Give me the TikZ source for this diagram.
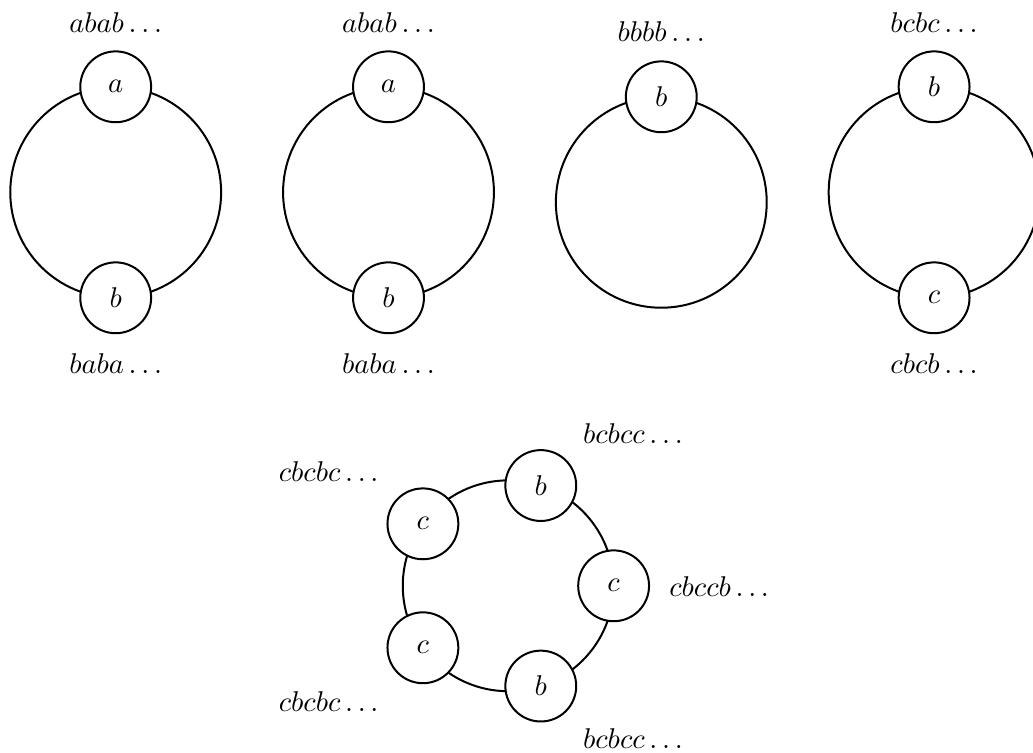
\documentclass[tikz,border=0pt]{standalone}
\usetikzlibrary{calc}
\begin{document}
\begin{tikzpicture}[x=0.35pt,y=-0.35pt,
  st/.style={circle,draw,fill=white,line width=0.7pt,minimum size=24.8pt,inner sep=0pt},
  ring/.style={line width=0.7pt},
  lbl/.style={anchor=base,inner sep=0pt}]
\useasboundingbox (0,0) rectangle (1033,753);
% circle 1
\coordinate (o1) at (115.7,192.3);
\draw[ring] (o1) circle[radius=36.9pt];
\node[st] (a1) at (115.7,86.8) {$a$};
\node[st] (b1) at (115.7,297.8) {$b$};
\node[lbl] (la1) at (115.7,32.3) {$abab\ldots$};
\node[lbl] (lb1) at (115.7,373.3) {$baba\ldots$};
% circle 2
\coordinate (o2) at (388.5,192.3);
\draw[ring] (o2) circle[radius=36.9pt];
\node[st] (a2) at (388.5,86.8) {$a$};
\node[st] (b2) at (388.5,297.8) {$b$};
\node[lbl] (la2) at (388.5,32.3) {$abab\ldots$};
\node[lbl] (lb2) at (388.5,373.3) {$baba\ldots$};
% circle 3
\coordinate (o3) at (661.3,202.3);
\draw[ring] (o3) circle[radius=36.9pt];
\node[st] (b3) at (661.3,96.8) {$b$};
\node[lbl] (lb3) at (661.3,41.7) {$bbbb\ldots$};
% circle 4
\coordinate (o4) at (934.1,192.3);
\draw[ring] (o4) circle[radius=36.9pt];
\node[st] (b4) at (934.1,86.8) {$b$};
\node[st] (c4) at (934.1,297.8) {$c$};
\node[lbl] (lb4) at (934.1,32.3) {$bcbc\ldots$};
\node[lbl] (lc4) at (934.1,373.3) {$cbcb\ldots$};
% pentagon ring
\coordinate (o5) at (508.2,585.8);
\draw[ring] (o5) circle[radius=36.9pt];
\node[st] (p1) at ($(o5)+(72:36.9pt)$) {$b$};
\node[st] (p2) at ($(o5)+(0:36.9pt)$) {$c$};
\node[st] (p3) at ($(o5)+(-72:36.9pt)$) {$b$};
\node[st] (p4) at ($(o5)+(144:36.9pt)$) {$c$};
\node[st] (p5) at ($(o5)+(216:36.9pt)$) {$c$};
\node[lbl] (lp1) at (633,443.3) {$bcbcc\ldots$};
\node[lbl] (lp2) at (719.2,596.7) {$cbccb\ldots$};
\node[lbl] (lp3) at (633,748.3) {$bcbcc\ldots$};
\node[lbl] (lp4) at (328.7,481.7) {$cbcbc\ldots$};
\node[lbl] (lp5) at (328.7,711.7) {$cbcbc\ldots$};
\end{tikzpicture}
\end{document}
